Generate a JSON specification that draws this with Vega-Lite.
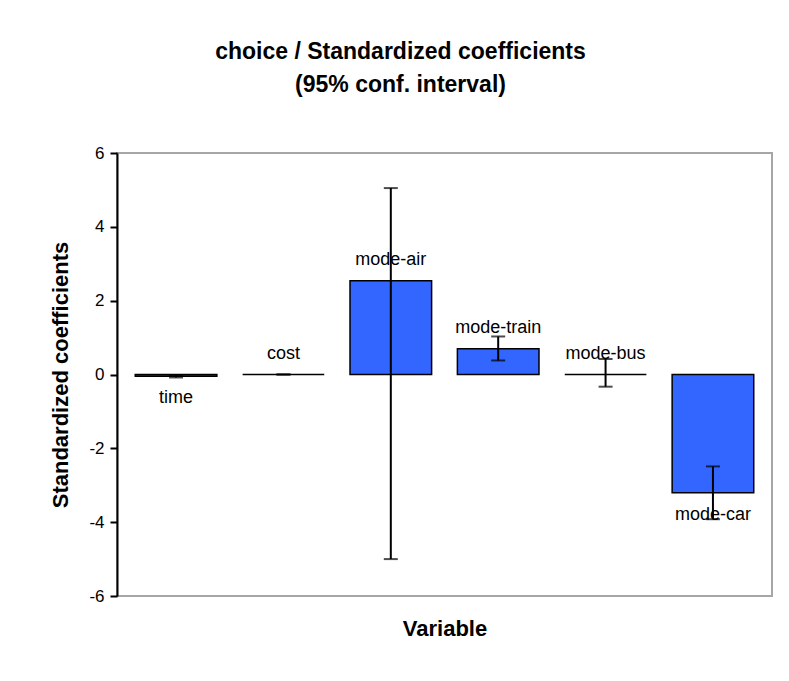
{
  "$schema": "https://vega.github.io/schema/vega-lite/v6.json",
  "width": 655,
  "height": 443,
  "autosize": "none",
  "padding": {"left": 117, "top": 153, "right": 17, "bottom": 85},
  "background": "white",
  "title": {
    "text": ["choice / Standardized coefficients", "(95% conf. interval)"],
    "font": "Liberation Sans",
    "fontSize": 23,
    "fontWeight": "bold",
    "color": "black",
    "lineHeight": 33,
    "anchor": "middle",
    "dx": -44,
    "offset": 47
  },
  "data": {
    "values": [
      {"variable": "time", "value": -0.05, "low": -0.08, "high": -0.02},
      {"variable": "cost", "value": 0.0, "low": 0.0, "high": 0.0},
      {"variable": "mode-air", "value": 2.54, "low": -5.0, "high": 5.05},
      {"variable": "mode-train", "value": 0.7, "low": 0.38, "high": 1.03},
      {"variable": "mode-bus", "value": 0.0, "low": -0.33, "high": 0.42},
      {"variable": "mode-car", "value": -3.2, "low": -3.92, "high": -2.49}
    ]
  },
  "encoding": {
    "x": {
      "field": "variable",
      "type": "nominal",
      "sort": null,
      "scale": {"paddingInner": 0.24, "paddingOuter": 0.17},
      "axis": {
        "title": "Variable",
        "labels": false,
        "ticks": false,
        "domain": false,
        "titleFont": "Liberation Sans",
        "titleFontSize": 22,
        "titleFontWeight": "bold",
        "titleColor": "black",
        "titlePadding": 22
      }
    }
  },
  "layer": [
    {
      "mark": {"type": "bar", "color": "#3366FF", "stroke": "black", "strokeWidth": 1.5},
      "encoding": {
        "y": {
          "field": "value",
          "type": "quantitative",
          "scale": {"domain": [-6, 6], "nice": false, "zero": false},
          "axis": {
            "title": "Standardized coefficients",
            "values": [-6, -4, -2, 0, 2, 4, 6],
            "labelExpr": "replace(datum.label, '\u2212', '-')",
            "grid": false,
            "domainColor": "black",
            "domainWidth": 2,
            "tickColor": "black",
            "tickWidth": 2,
            "tickSize": 7,
            "labelPadding": 6,
            "labelFont": "Liberation Sans",
            "labelFontSize": 17,
            "labelColor": "black",
            "titleFont": "Liberation Sans",
            "titleFontSize": 22,
            "titleFontWeight": "bold",
            "titleColor": "black",
            "titlePadding": 16
          }
        },
        "y2": {"datum": 0}
      }
    },
    {
      "mark": {"type": "rule", "color": "black", "strokeWidth": 2},
      "encoding": {"y": {"datum": 0}}
    },
    {
      "mark": {"type": "rule", "color": "black", "strokeWidth": 2},
      "encoding": {
        "y": {"field": "low", "type": "quantitative"},
        "y2": {"field": "high"}
      }
    },
    {
      "mark": {"type": "tick", "color": "black", "thickness": 2, "size": 14, "orient": "horizontal"},
      "encoding": {"y": {"field": "low", "type": "quantitative"}}
    },
    {
      "mark": {"type": "tick", "color": "black", "thickness": 2, "size": 14, "orient": "horizontal"},
      "encoding": {"y": {"field": "high", "type": "quantitative"}}
    },
    {
      "transform": [{"filter": "datum.value >= 0"}],
      "mark": {"type": "text", "baseline": "middle", "dy": -21, "font": "Liberation Sans", "fontSize": 18, "color": "black"},
      "encoding": {
        "y": {"field": "value", "type": "quantitative"},
        "text": {"field": "variable"}
      }
    },
    {
      "transform": [{"filter": "datum.value < 0"}],
      "mark": {"type": "text", "baseline": "middle", "dy": 22, "font": "Liberation Sans", "fontSize": 18, "color": "black"},
      "encoding": {
        "y": {"field": "value", "type": "quantitative"},
        "text": {"field": "variable"}
      }
    }
  ],
  "config": {
    "view": {"stroke": "#a6a6a6", "strokeWidth": 2}
  }
}
